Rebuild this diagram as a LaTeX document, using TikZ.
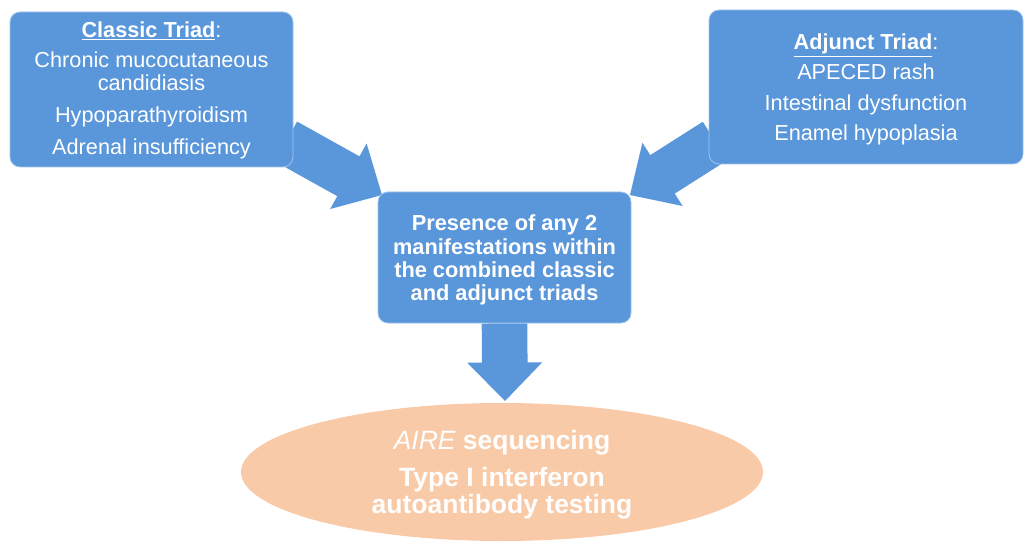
\documentclass[tikz,border=0pt]{standalone}
\usepackage{fontspec}
\setmainfont{Liberation Sans}
\usetikzlibrary{calc,shapes.geometric,backgrounds}
\definecolor{boxblue}{RGB}{89,150,218}
\definecolor{boxedge}{RGB}{160,196,236}
\definecolor{ovalorange}{RGB}{248,202,168}
\tikzset{
  bluebox/.style={rectangle, rounded corners=10pt, fill=boxblue, draw=boxedge, line width=0.8pt,
    text=white, align=center, inner sep=0pt},
  bodytext/.style={text=white, anchor=base, inner sep=0pt, font=\fontsize{21.7}{23}\selectfont},
  midtext/.style={text=white, anchor=base, inner sep=0pt, font=\bfseries\fontsize{21.8}{24}\selectfont},
  ovaltext/.style={text=white, anchor=base, inner sep=0pt, font=\bfseries\fontsize{26.5}{27}\selectfont},
  oval/.style={ellipse, fill=ovalorange, draw=none, inner sep=0pt},
  arrowfill/.style={fill=boxblue, draw=none},
}
\begin{document}
\begin{tikzpicture}[x=1pt,y=-1pt]
\useasboundingbox (0,0) rectangle (1025,548);
% boxes
\node[bluebox, minimum width=283pt, minimum height=155pt] (classic) at (151.5,89.5) {};
\node[bluebox, minimum width=314pt, minimum height=154pt] (adjunct) at (866,87) {};
\node[bluebox, minimum width=253pt, minimum height=131pt] (combined) at (504.5,257.5) {};
\node[oval, minimum width=522pt, minimum height=138pt] (tests) at (502,472) {};
% texts
\node[bodytext] (ct1) at (151.5,38) {{\bfseries\underline{Classic Triad}}:};
\node[bodytext] (ct2) at (151.5,68) {Chronic mucocutaneous};
\node[bodytext] (ct2b) at (151.5,91) {candidiasis};
\node[bodytext] (ct3) at (151.5,123) {Hypoparathyroidism};
\node[bodytext] (ct4) at (151.5,155) {Adrenal insufficiency};
\node[bodytext] (at1) at (866,50) {{\bfseries\underline{Adjunct Triad}}:};
\node[bodytext] (at2) at (866,80) {APECED rash};
\node[bodytext] (at3) at (866,111) {Intestinal dysfunction};
\node[bodytext] (at4) at (866,141) {Enamel hypoplasia};
\node[midtext] (mt1) at (504.5,230) {Presence of any 2};
\node[midtext] (mt2) at (504.5,254) {manifestations within};
\node[midtext] (mt3) at (504.5,277) {the combined classic};
\node[midtext] (mt4) at (504.5,300) {and adjunct triads};
\node[ovaltext] (et1) at (502,449) {{\mdseries\itshape AIRE} sequencing};
\node[ovaltext] (et2) at (502,486) {Type I interferon};
\node[ovaltext] (et3) at (502,513) {autoantibody testing};
% arrow endpoints
\coordinate (ls) at (286,141.5);
\coordinate (lt) at (382,195);
\coordinate (rs) at (715,141);
\coordinate (rt) at (630,195);
\coordinate (ds) at (combined.south);
\coordinate (dt) at (505,401);
\begin{scope}[on background layer]
\foreach \s/\t in {ls/lt, rs/rt, ds/dt} {
  \coordinate (h) at ($(\t)!38.5pt!(\s)$);
  \fill[arrowfill]
    ($(\s)!22.8pt!90:(\t)$) -- ($(h)!22.8pt!90:(\t)$) -- ($(h)!37.5pt!90:(\t)$) --
    (\t) --
    ($(h)!37.5pt!-90:(\t)$) -- ($(h)!22.8pt!-90:(\t)$) -- ($(\s)!22.8pt!-90:(\t)$) -- cycle;
}
\end{scope}
\end{tikzpicture}
\end{document}
